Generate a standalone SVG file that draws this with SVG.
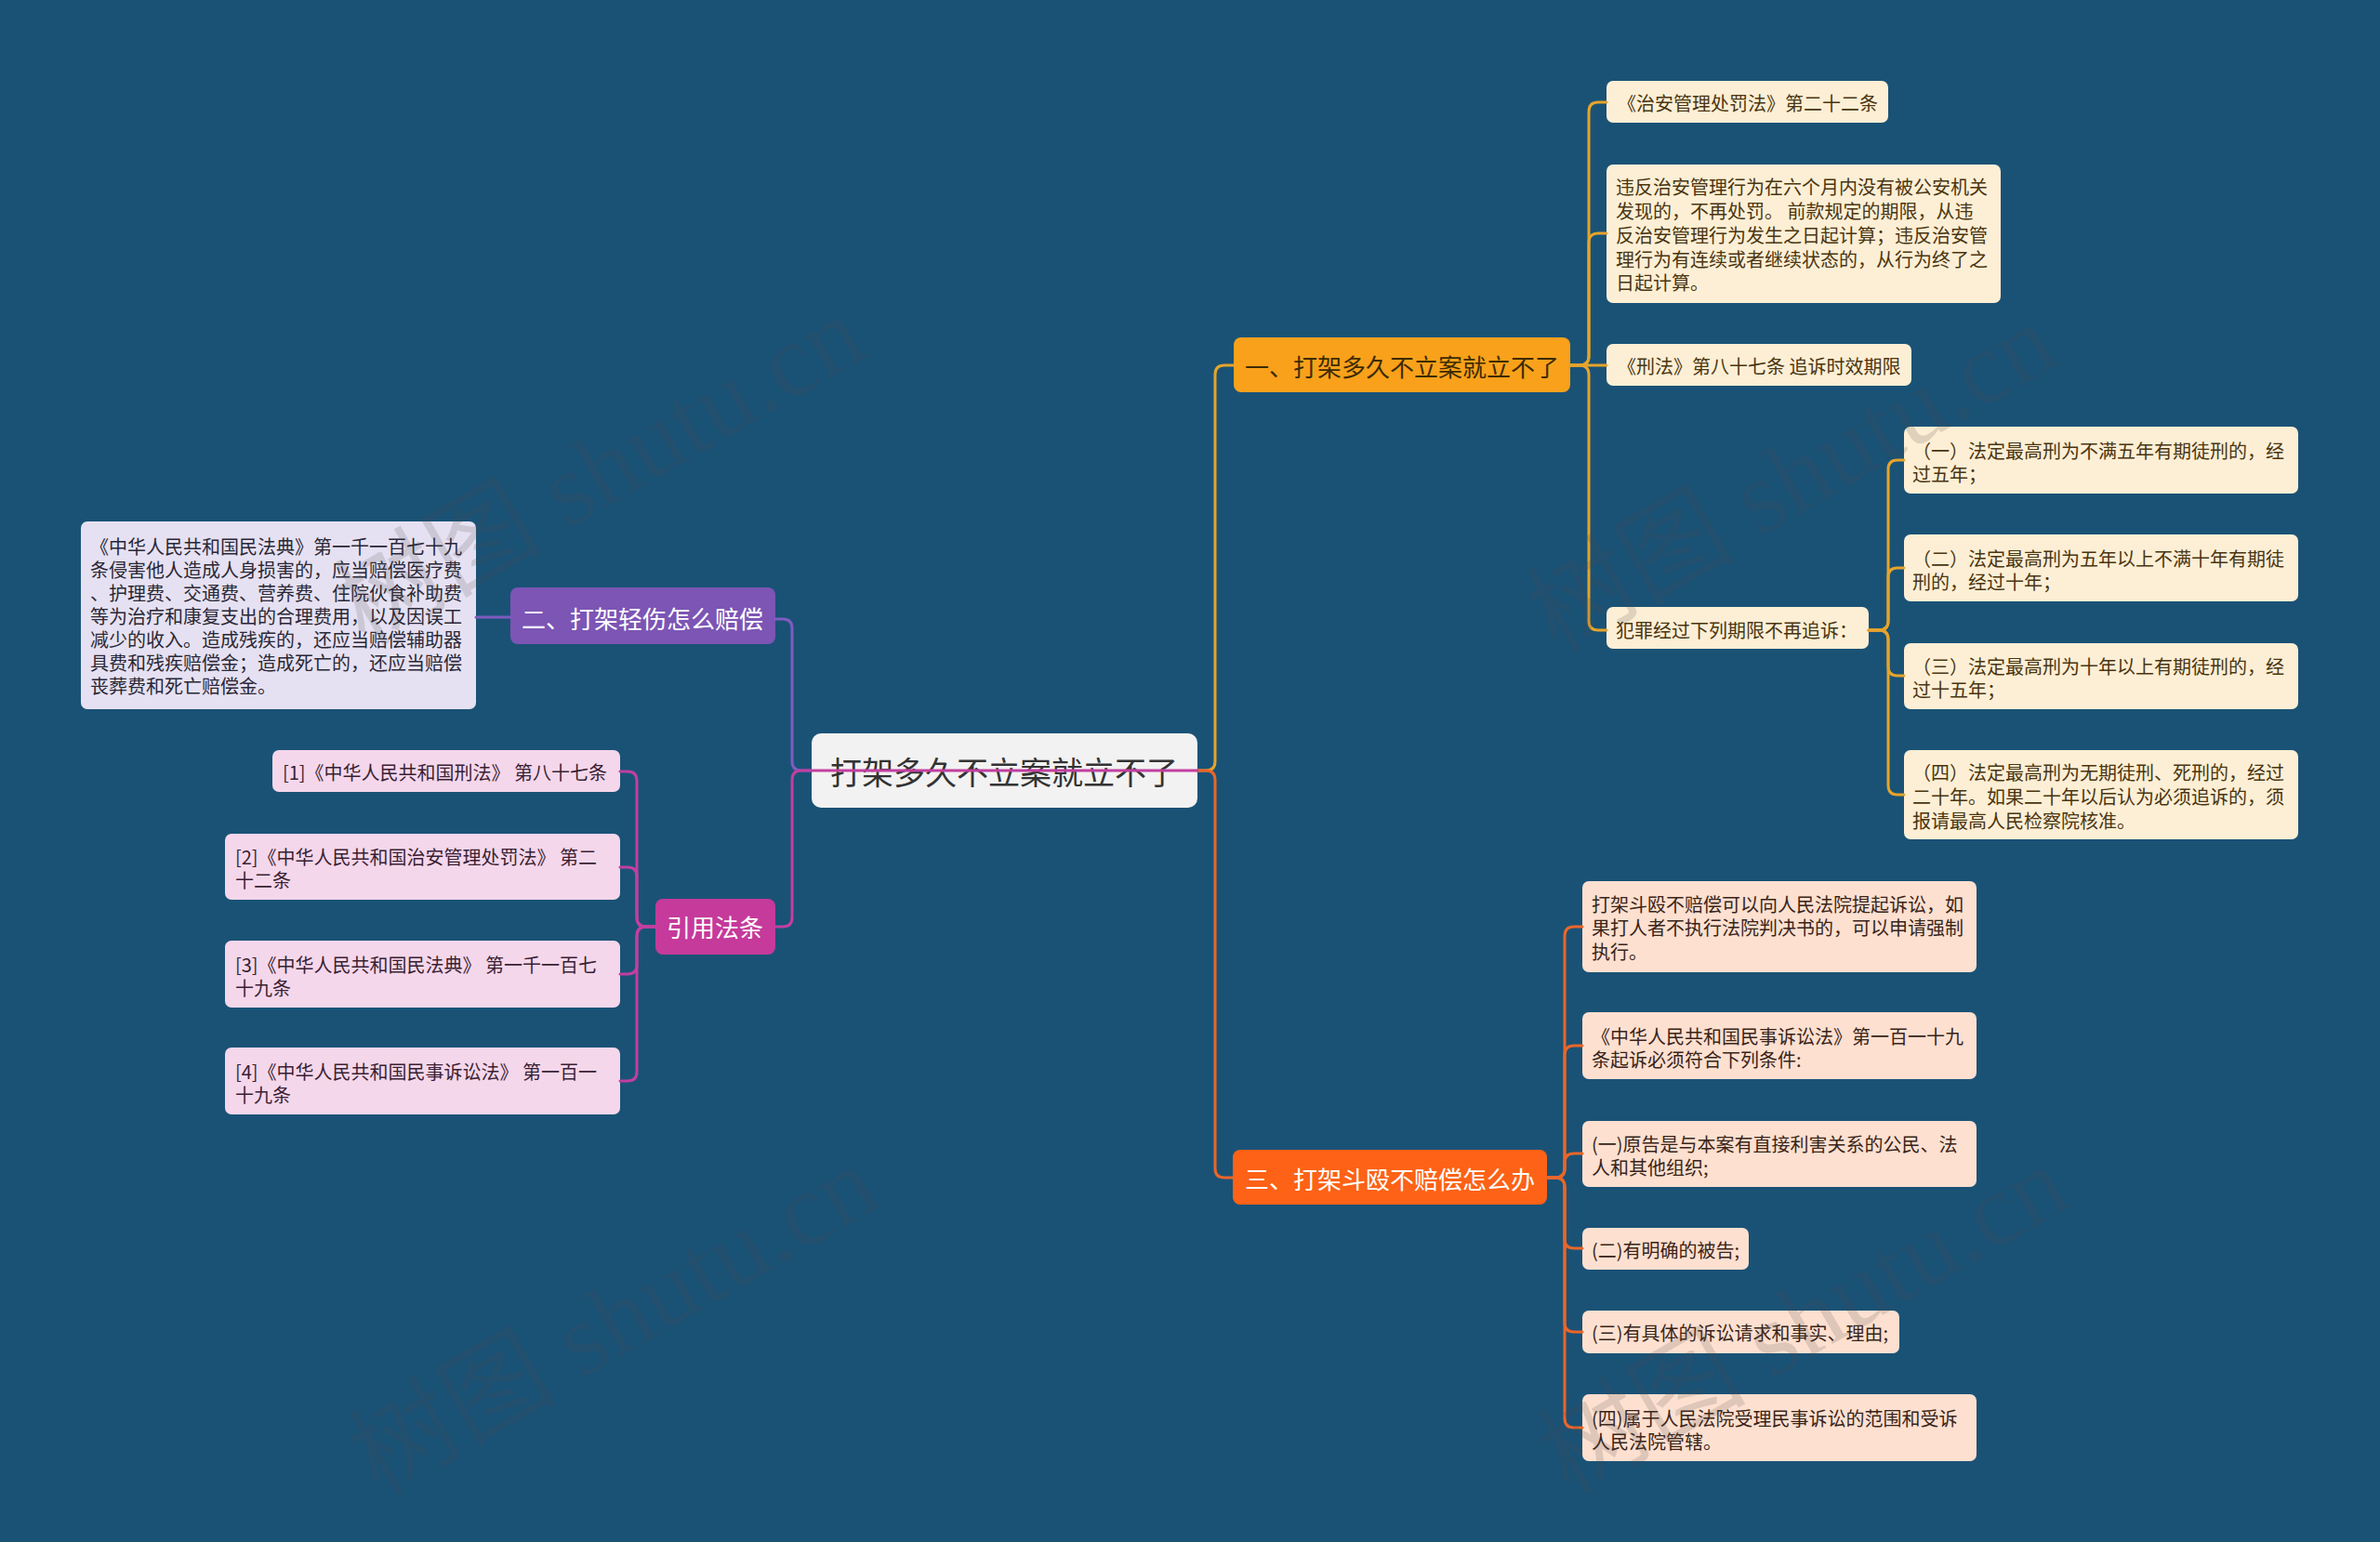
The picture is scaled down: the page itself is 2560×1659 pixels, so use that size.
<svg xmlns="http://www.w3.org/2000/svg" width="2560" height="1659" viewBox="0 0 2560 1659">
<style>
text{font-family:"Noto Sans CJK SC","Liberation Sans",sans-serif;dominant-baseline:central}
.leaf{font-size:20px}
.main{font-size:26px}
.c{fill:none;stroke-width:3;stroke-linecap:round;stroke-linejoin:round}
.gold{stroke:#e5a42c}.org{stroke:#e9662a}.pur{stroke:#7e5cbf}.mag{stroke:#c23f9f}
.cream{fill:#fdefd5}.peach{fill:#fde0d0}.lav{fill:#e6e1f2}.pink{fill:#f5d7eb}
.tcream{fill:#4a3510}.tpeach{fill:#3a2418}.tlav{fill:#2a2836}.tpink{fill:#3a1f33}
.wm{font-family:"Liberation Serif","Noto Sans CJK SC",serif;font-size:112px;fill:#4a4a4a;opacity:0.17}
</style>
<rect width="2560" height="1659" fill="#1a5276"/>

<g id="center">
<rect x="873" y="789" width="415" height="80" rx="10" fill="#f2f2f2"/>
<text x="1080" y="829" font-size="34" fill="#333" text-anchor="middle">打架多久不立案就立不了</text>
</g>

<g id="n1">
<rect x="1327" y="363" width="362" height="59" rx="8" fill="#f9a11b"/>
<text class="main" x="1508" y="393" fill="#3d2b00" text-anchor="middle">一、打架多久不立案就立不了</text>
</g>
<g id="n1a">
<rect class="cream" x="1728" y="87" width="303" height="45" rx="7"/>
<text class="leaf tcream" x="1740" y="110">《治安管理处罚法》第二十二条</text>
</g>
<g id="n1b">
<rect class="cream" x="1728" y="177" width="424" height="149" rx="7"/>
<text class="leaf tcream" x="1738"><tspan x="1738" y="200">违反治安管理行为在六个月内没有被公安机关</tspan><tspan x="1738" y="226">发现的，不再处罚。 前款规定的期限，从违</tspan><tspan x="1738" y="252">反治安管理行为发生之日起计算；违反治安管</tspan><tspan x="1738" y="278">理行为有连续或者继续状态的，从行为终了之</tspan><tspan x="1738" y="303">日起计算。</tspan></text>
</g>
<g id="n1c">
<rect class="cream" x="1728" y="370" width="328" height="45" rx="7"/>
<text class="leaf tcream" x="1740" y="393">《刑法》第八十七条 追诉时效期限</text>
</g>
<g id="n1d">
<rect class="cream" x="1728" y="653" width="282" height="45" rx="7"/>
<text class="leaf tcream" x="1738" y="677">犯罪经过下列期限不再追诉：</text>
</g>
<g id="n1d1">
<rect class="cream" x="2048" y="459" width="424" height="72" rx="7"/>
<text class="leaf tcream"><tspan x="2057" y="484">（一）法定最高刑为不满五年有期徒刑的，经</tspan><tspan x="2057" y="509">过五年；</tspan></text>
</g>
<g id="n1d2">
<rect class="cream" x="2048" y="575" width="424" height="72" rx="7"/>
<text class="leaf tcream"><tspan x="2057" y="600">（二）法定最高刑为五年以上不满十年有期徒</tspan><tspan x="2057" y="625">刑的，经过十年；</tspan></text>
</g>
<g id="n1d3">
<rect class="cream" x="2048" y="692" width="424" height="71" rx="7"/>
<text class="leaf tcream"><tspan x="2057" y="716">（三）法定最高刑为十年以上有期徒刑的，经</tspan><tspan x="2057" y="741">过十五年；</tspan></text>
</g>
<g id="n1d4">
<rect class="cream" x="2048" y="807" width="424" height="96" rx="7"/>
<text class="leaf tcream"><tspan x="2057" y="830">（四）法定最高刑为无期徒刑、死刑的，经过</tspan><tspan x="2057" y="856">二十年。如果二十年以后认为必须追诉的，须</tspan><tspan x="2057" y="882">报请最高人民检察院核准。</tspan></text>
</g>

<g id="n3">
<rect x="1326" y="1237" width="338" height="59" rx="8" fill="#fd6216"/>
<text class="main" x="1495" y="1267" fill="#ffffff" text-anchor="middle">三、打架斗殴不赔偿怎么办</text>
</g>
<g id="n3a">
<rect class="peach" x="1702" y="948" width="424" height="98" rx="7"/>
<text class="leaf tpeach"><tspan x="1712" y="972">打架斗殴不赔偿可以向人民法院提起诉讼，如</tspan><tspan x="1712" y="997">果打人者不执行法院判决书的，可以申请强制</tspan><tspan x="1712" y="1023">执行。</tspan></text>
</g>
<g id="n3b">
<rect class="peach" x="1702" y="1089" width="424" height="72" rx="7"/>
<text class="leaf tpeach"><tspan x="1712" y="1114">《中华人民共和国民事诉讼法》第一百一十九</tspan><tspan x="1712" y="1139">条起诉必须符合下列条件:</tspan></text>
</g>
<g id="n3c">
<rect class="peach" x="1702" y="1206" width="424" height="71" rx="7"/>
<text class="leaf tpeach"><tspan x="1712" y="1230">(一)原告是与本案有直接利害关系的公民、法</tspan><tspan x="1712" y="1255">人和其他组织;</tspan></text>
</g>
<g id="n3d">
<rect class="peach" x="1702" y="1321" width="179" height="45" rx="7"/>
<text class="leaf tpeach" x="1712" y="1344">(二)有明确的被告;</text>
</g>
<g id="n3e">
<rect class="peach" x="1702" y="1410" width="341" height="46" rx="7"/>
<text class="leaf tpeach" x="1712" y="1433">(三)有具体的诉讼请求和事实、理由;</text>
</g>
<g id="n3f">
<rect class="peach" x="1702" y="1500" width="424" height="72" rx="7"/>
<text class="leaf tpeach"><tspan x="1712" y="1525">(四)属于人民法院受理民事诉讼的范围和受诉</tspan><tspan x="1712" y="1550">人民法院管辖。</tspan></text>
</g>

<g id="n2">
<rect x="549" y="632" width="285" height="61" rx="8" fill="#7c55b5"/>
<text class="main" x="691" y="664" fill="#ffffff" text-anchor="middle">二、打架轻伤怎么赔偿</text>
</g>
<g id="n2a">
<rect class="lav" x="87" y="561" width="425" height="202" rx="7"/>
<text class="leaf tlav"><tspan x="97" y="587">《中华人民共和国民法典》第一千一百七十九</tspan><tspan x="97" y="612">条侵害他人造成人身损害的，应当赔偿医疗费</tspan><tspan x="97" y="637">、护理费、交通费、营养费、住院伙食补助费</tspan><tspan x="97" y="662">等为治疗和康复支出的合理费用，以及因误工</tspan><tspan x="97" y="687">减少的收入。造成残疾的，还应当赔偿辅助器</tspan><tspan x="97" y="712">具费和残疾赔偿金；造成死亡的，还应当赔偿</tspan><tspan x="97" y="737">丧葬费和死亡赔偿金。</tspan></text>
</g>

<g id="n4">
<rect x="705" y="967" width="129" height="60" rx="8" fill="#c53a9b"/>
<text class="main" x="769" y="996" fill="#ffffff" text-anchor="middle">引用法条</text>
</g>
<g id="n4a">
<rect class="pink" x="293" y="807" width="374" height="45" rx="7"/>
<text class="leaf tpink" x="304" y="830">[1]《中华人民共和国刑法》 第八十七条</text>
</g>
<g id="n4b">
<rect class="pink" x="242" y="897" width="425" height="71" rx="7"/>
<text class="leaf tpink"><tspan x="253" y="921">[2]《中华人民共和国治安管理处罚法》 第二</tspan><tspan x="253" y="946">十二条</tspan></text>
</g>
<g id="n4c">
<rect class="pink" x="242" y="1012" width="425" height="72" rx="7"/>
<text class="leaf tpink"><tspan x="253" y="1037">[3]《中华人民共和国民法典》 第一千一百七</tspan><tspan x="253" y="1062">十九条</tspan></text>
</g>
<g id="n4d">
<rect class="pink" x="242" y="1127" width="425" height="72" rx="7"/>
<text class="leaf tpink"><tspan x="253" y="1152">[4]《中华人民共和国民事诉讼法》 第一百一</tspan><tspan x="253" y="1177">十九条</tspan></text>
</g>

<g id="connectors">
<path class="c gold" d="M1288,829 H1297 Q1307,829 1307,819 V403 Q1307,393 1317,393 H1327"/>
<path class="c org" d="M1288,829 H1297 Q1307,829 1307,839 V1257 Q1307,1267 1317,1267 H1326"/>
<path class="c gold" d="M1689,393 H1699 Q1709,393 1709,383 V120 Q1709,110 1719,110 H1728"/>
<path class="c gold" d="M1689,393 H1699 Q1709,393 1709,383 V261 Q1709,251 1719,251 H1728"/>
<path class="c gold" d="M1689,393 H1728"/>
<path class="c gold" d="M1689,393 H1699 Q1709,393 1709,403 V668 Q1709,678 1719,678 H1728"/>
<path class="c gold" d="M2010,678 H2021 Q2031,678 2031,668 V505 Q2031,495 2041,495 H2048"/>
<path class="c gold" d="M2010,678 H2021 Q2031,678 2031,668 V621 Q2031,611 2041,611 H2048"/>
<path class="c gold" d="M2010,678 H2021 Q2031,678 2031,688 V717 Q2031,727 2041,727 H2048"/>
<path class="c gold" d="M2010,678 H2021 Q2031,678 2031,688 V845 Q2031,855 2041,855 H2048"/>
<path class="c org" d="M1664,1267 H1673 Q1683,1267 1683,1257 V1007 Q1683,997 1693,997 H1702"/>
<path class="c org" d="M1664,1267 H1673 Q1683,1267 1683,1257 V1135 Q1683,1125 1693,1125 H1702"/>
<path class="c org" d="M1664,1267 H1673 Q1683,1267 1683,1257 V1251 Q1683,1241 1693,1241 H1702"/>
<path class="c org" d="M1664,1267 H1673 Q1683,1267 1683,1277 V1333 Q1683,1343 1693,1343 H1702"/>
<path class="c org" d="M1664,1267 H1673 Q1683,1267 1683,1277 V1423 Q1683,1433 1693,1433 H1702"/>
<path class="c org" d="M1664,1267 H1673 Q1683,1267 1683,1277 V1526 Q1683,1536 1693,1536 H1702"/>
<path class="c pur" d="M873,829 H862 Q852,829 852,819 V676 Q852,666 842,666 H834"/>
<path class="c mag" d="M1288,829 H862 Q852,829 852,839 V987 Q852,997 842,997 H834"/>
<path class="c pur" d="M549,664 H512"/>
<path class="c mag" d="M705,997 H695 Q685,997 685,987 V840 Q685,830 675,830 H667"/>
<path class="c mag" d="M705,997 H695 Q685,997 685,987 V943 Q685,933 675,933 H667"/>
<path class="c mag" d="M705,997 H695 Q685,997 685,1007 V1038 Q685,1048 675,1048 H667"/>
<path class="c mag" d="M705,997 H695 Q685,997 685,1007 V1153 Q685,1163 675,1163 H667"/>
</g>

<g id="watermarks">
<text class="wm" x="645" y="506" text-anchor="middle" transform="rotate(-30 645 506)">树图 shutu.cn</text>
<text class="wm" x="1927" y="514" text-anchor="middle" transform="rotate(-30 1927 514)">树图 shutu.cn</text>
<text class="wm" x="660" y="1420" text-anchor="middle" transform="rotate(-30 660 1420)">树图 shutu.cn</text>
<text class="wm" x="1940" y="1420" text-anchor="middle" transform="rotate(-30 1940 1420)">树图 shutu.cn</text>
</g>
</svg>
